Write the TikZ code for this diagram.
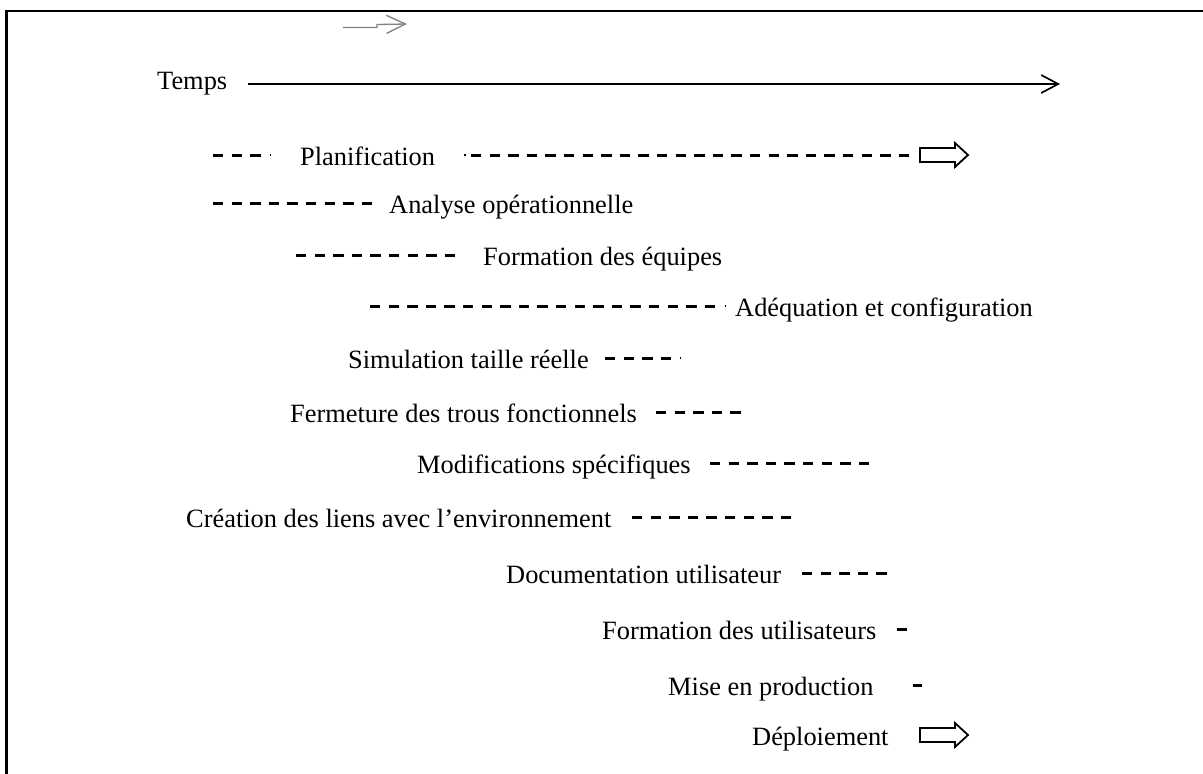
\documentclass[tikz,border=0pt]{standalone}
\usepackage{fontspec}
\setmainfont{Liberation Serif}
\usetikzlibrary{arrows.meta}

\begin{document}
\begin{tikzpicture}[x=1pt,y=-1pt,
  lbl/.style={anchor=base west, inner sep=0pt, font=\fontsize{26.4pt}{30pt}\selectfont},
  dashline/.style={line width=3pt, dash pattern=on 10.3pt off 8.3pt},
  dotmark/.style={line width=1.4pt},
  blockarrow/.style={draw, line width=1.8pt, line join=miter},
  axis/.style={line width=1.7pt, -{Straight Barb[length=17pt,width=18pt,line width=1.7pt]}},
]
\useasboundingbox (0,0) rectangle (1203,774);

% frame
\draw[line width=2.2pt] (6.5,774) -- (6.5,11) -- (1203,11);

% small grey arrow
\coordinate (g0) at (343,27.5);
\coordinate (g1) at (407,24);
\draw[gray, line width=1.3pt, -{Straight Barb[length=19pt,width=18pt]}]
  (g0) -- (377,27.5) -- (377,24.5) -- (g1);

% time axis
\node[lbl] (temps) at (157,89) {Temps};
\coordinate (t0) at (248,84);
\coordinate (t1) at (1060,84);
\draw[axis] (t0) -- (t1);

% Planification
\coordinate (p1a) at (213,155);
\coordinate (p1b) at (261,155);
\coordinate (p1e) at (269.5,155);
\draw[dashline] (p1a) -- (p1b);
\draw[dotmark] (p1e) -- ++(1.5,0);
\node[lbl] (plan) at (300,165.5) {Planification};
\coordinate (p1c) at (464,155);
\coordinate (p1d) at (471,155);
\draw[dotmark] (p1c) -- ++(1.5,0);
\coordinate (planarr) at (920,155);
\draw[blockarrow] (planarr) ++(0,-7) -- ++(35,0) -- ++(0,-5) -- ++(13,12)
  -- ++(-13,12) -- ++(0,-5) -- ++(-35,0) -- cycle;
\draw[dashline] (p1d) -- ([xshift=-4pt]planarr);

% Analyse opérationnelle
\coordinate (a0) at (213,203);
\coordinate (a1) at (372.1,203);
\draw[dashline] (a0) -- (a1);
\node[lbl] (ana) at (389,213.5) {Analyse opérationnelle};

% Formation des équipes
\coordinate (f0) at (296,255);
\coordinate (f1) at (455.1,255);
\draw[dashline] (f0) -- (f1);
\node[lbl] (feq) at (483,265.5) {Formation des équipes};

% Adéquation et configuration
\coordinate (ad0) at (370,306);
\coordinate (ad1) at (715.1,306);
\coordinate (ad2) at (724.5,306);
\draw[dashline] (ad0) -- (ad1);
\draw[dotmark] (ad2) -- ++(1.5,0);
\node[lbl] (adq) at (735,316.5) {Adéquation et configuration};

% Simulation taille réelle
\node[lbl] (sim) at (348,368.5) {Simulation taille réelle};
\coordinate (s0) at (605,358);
\coordinate (s1) at (671.1,358);
\coordinate (s2) at (679.5,358);
\draw[dashline] (s0) -- (s1);
\draw[dotmark] (s2) -- ++(1.5,0);

% Fermeture des trous fonctionnels
\node[lbl] (fer) at (290,422.5) {Fermeture des trous fonctionnels};
\coordinate (fe0) at (656,412);
\coordinate (fe1) at (740.8,412);
\draw[dashline] (fe0) -- (fe1);

% Modifications spécifiques
\node[lbl] (mod) at (417,473.5) {Modifications spécifiques};
\coordinate (m0) at (710,463);
\coordinate (m1) at (869.1,463);
\draw[dashline] (m0) -- (m1);

% Création des liens avec l'environnement
\node[lbl] (cre) at (186,527.5) {Création des liens avec l’environnement};
\coordinate (c0) at (632,517);
\coordinate (c1) at (791.1,517);
\draw[dashline] (c0) -- (c1);

% Documentation utilisateur
\node[lbl] (doc) at (506,583.5) {Documentation utilisateur};
\coordinate (d0) at (802,573);
\coordinate (d1) at (886.8,573);
\draw[dashline] (d0) -- (d1);

% Formation des utilisateurs
\node[lbl] (fut) at (602,639.5) {Formation des utilisateurs};
\coordinate (u0) at (897,629);
\coordinate (u1) at (907,629);
\draw[dashline] (u0) -- (u1);

% Mise en production
\node[lbl] (mep) at (668,695.5) {Mise en production};
\coordinate (mp0) at (913,685);
\coordinate (mp1) at (922,685);
\draw[dashline] (mp0) -- (mp1);

% Déploiement
\node[lbl] (dep) at (752,745.5) {Déploiement};
\coordinate (deparr) at (920,735);
\draw[blockarrow] (deparr) ++(0,-7) -- ++(35,0) -- ++(0,-5) -- ++(13,12)
  -- ++(-13,12) -- ++(0,-5) -- ++(-35,0) -- cycle;
\end{tikzpicture}
\end{document}
